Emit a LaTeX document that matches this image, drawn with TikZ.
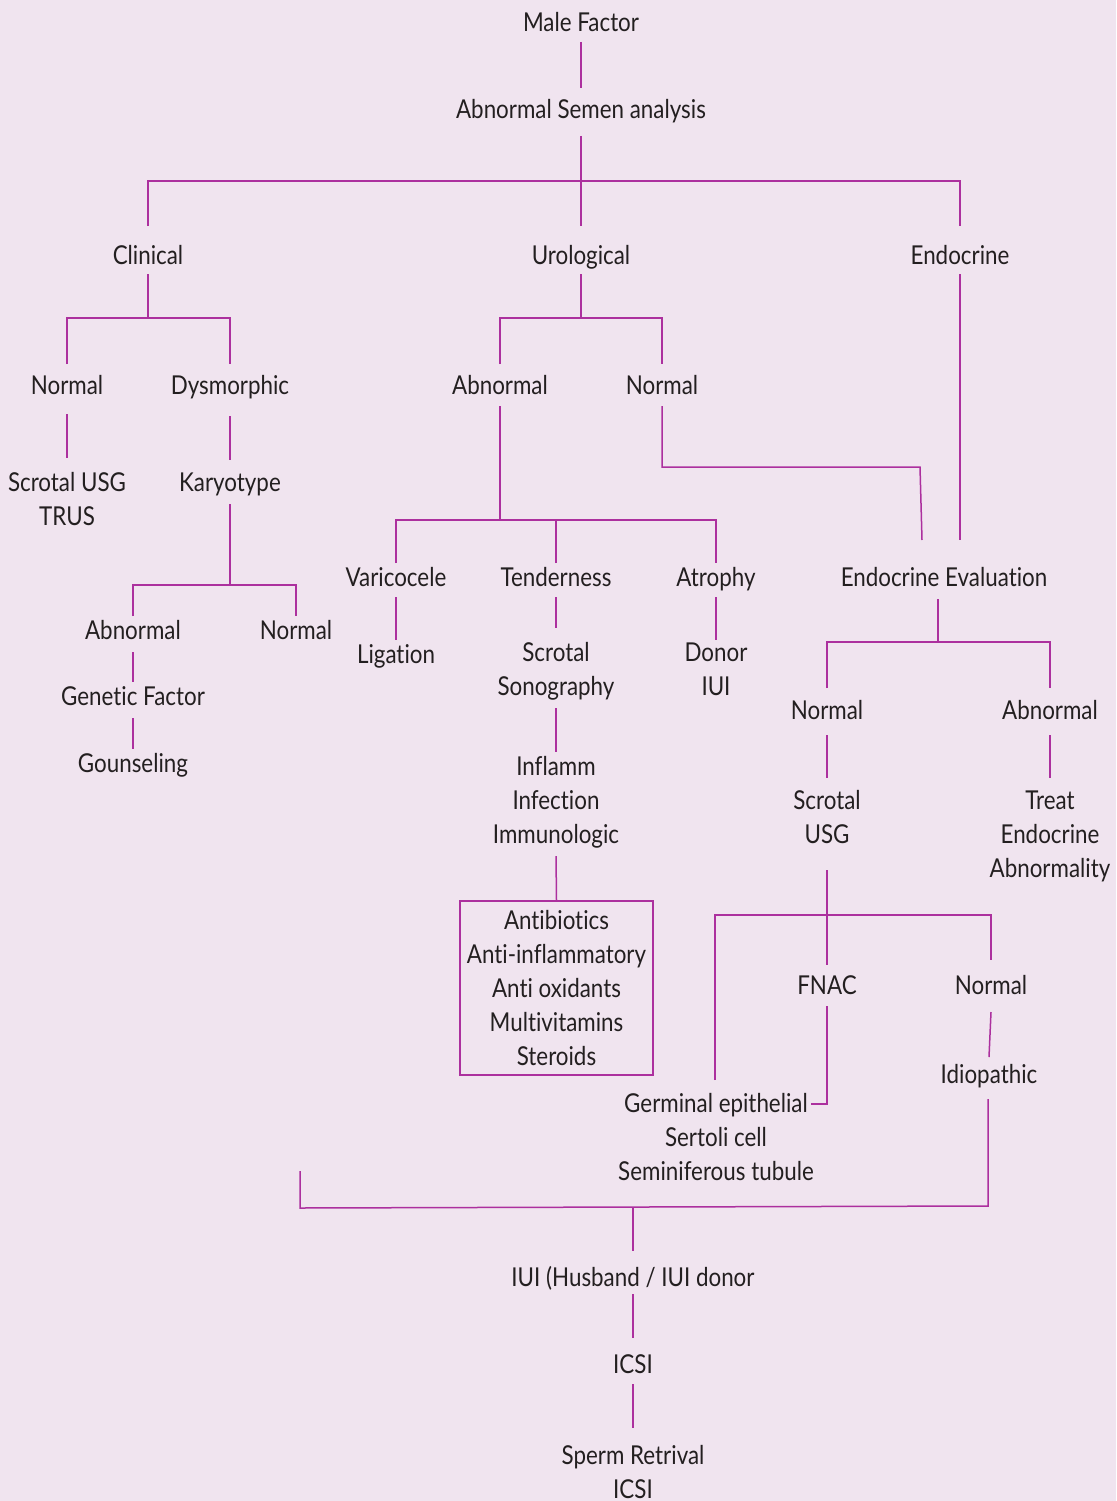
\documentclass[tikz,border=0pt]{standalone}
\usepackage{fontspec}
\setmainfont{Lato}[FakeStretch=0.86, Ligatures=NoCommon]
\definecolor{bgc}{RGB}{240,228,239}
\definecolor{linec}{RGB}{172,48,158}
\definecolor{txtc}{RGB}{35,31,32}
\begin{document}
\begin{tikzpicture}[x=1pt,y=-1pt,
  lbl/.style={inner sep=0pt, anchor=base, align=center, text=txtc,
    font=\fontsize{26}{34}\selectfont},
  link/.style={draw=linec, line width=1.5pt}]
\fill[bgc] (0,0) rectangle (1116,1501);
\useasboundingbox (0,0) rectangle (1116,1501);

% ---- labels (multi-line labels sit on the baseline of their last line) ----
\node[lbl] (male) at (581,32) {Male Factor};
\node[lbl] (asa) at (581,119) {Abnormal Semen analysis};
\node[lbl] (clin) at (148,264) {Clinical};
\node[lbl] (uro) at (581,264) {Urological};
\node[lbl] (endo) at (960,264) {Endocrine};

\node[lbl] (cnorm) at (67,394) {Normal};
\node[lbl] (dysm) at (230,394) {Dysmorphic};
\node[lbl] (cusg) at (67,525) {Scrotal USG\\TRUS};
\node[lbl] (kary) at (230,491) {Karyotype};
\node[lbl] (kabn) at (133,639) {Abnormal};
\node[lbl] (knorm) at (296,639) {Normal};
\node[lbl] (gen) at (133,705) {Genetic Factor};
\node[lbl] (gou) at (133,772) {Gounseling};

\node[lbl] (uabn) at (500,394) {Abnormal};
\node[lbl] (unorm) at (662,394) {Normal};
\node[lbl] (vari) at (396,586) {Varicocele};
\node[lbl] (tend) at (556,586) {Tenderness};
\node[lbl] (atro) at (716,586) {Atrophy};
\node[lbl] (lig) at (396,663) {Ligation};
\node[lbl] (sono) at (556,695) {Scrotal\\Sonography};
\node[lbl] (donor) at (716,695) {Donor\\IUI};
\node[lbl] (infl) at (556,843) {Inflamm\\Infection\\Immunologic};
\node[lbl, anchor=center, draw=linec, line width=1.5pt,
  minimum width=193pt, minimum height=174pt] (tx) at (556.5,988)
  {Antibiotics\\Anti-inflammatory\\Anti oxidants\\Multivitamins\\Steroids};

\node[lbl] (endoev) at (944,586) {Endocrine Evaluation};
\node[lbl] (enorm) at (827,719) {Normal};
\node[lbl] (eabn) at (1050,719) {Abnormal};
\node[lbl] (scr3) at (827,843) {Scrotal\\USG};
\node[lbl] (treat) at (1050,877) {Treat\\Endocrine\\Abnormality};
\node[lbl] (fnac) at (827,994) {FNAC};
\node[lbl] (fnorm) at (991,994) {Normal};
\node[lbl] (idio) at (989,1083) {Idiopathic};
\node[lbl] (germ) at (716,1180) {Germinal epithelial\\Sertoli cell\\Seminiferous tubule};

\node[lbl] (iui) at (633,1286) {IUI (Husband / IUI donor};
\node[lbl] (icsi) at (633,1373) {ICSI};
\node[lbl] (sperm) at (633,1498) {Sperm Retrival\\ICSI};

% ---- junctions ----
\coordinate (j1) at (581,181);
\coordinate (j2) at (148,318);
\coordinate (j3) at (230,585);
\coordinate (j4) at (581,318);
\coordinate (j5) at (920,467);
\coordinate (j6) at (500,520);
\coordinate (j7) at (938,642);
\coordinate (j8) at (827,915);
\coordinate (bR) at (988,1206);
\coordinate (bL) at (300,1208);
\coordinate (loose) at (300,1171);
\coordinate (j9) at (633,1207);

% ---- connectors ----
\draw[link] ([yshift=-10]male.base) -- ([yshift=31]asa.base);
\draw[link] ([yshift=-17]asa.base) -- ([yshift=38]uro.base);
\draw[link] ([yshift=38]clin.base) |- (j1) -| ([yshift=38]endo.base);

% clinical branch
\draw[link] ([yshift=-10]clin.base) -- (j2);
\draw[link] ([yshift=30]cnorm.base) |- (j2) -| ([yshift=30]dysm.base);
\draw[link] ([yshift=-20]cnorm.base) -- ([yshift=67]cusg.base);
\draw[link] ([yshift=-22]dysm.base) -- ([yshift=31]kary.base);
\draw[link] ([yshift=-13]kary.base) -- (j3);
\draw[link] ([yshift=23]kabn.base) |- (j3) -| ([yshift=23]knorm.base);
\draw[link] ([yshift=-13]kabn.base) -- ([yshift=23]gen.base);
\draw[link] ([yshift=-13]gen.base) -- ([yshift=23]gou.base);

% urological branch
\draw[link] ([yshift=-10]uro.base) -- (j4);
\draw[link] ([yshift=30]uabn.base) |- (j4) -| ([yshift=30]unorm.base);
\draw[link] ([yshift=-12]unorm.base) |- (j5) -- ([xshift=-22,yshift=46]endoev.base);
\draw[link] ([yshift=-12]uabn.base) -- (j6);
\draw[link] ([yshift=23]vari.base) |- (j6) -| ([yshift=23]atro.base);
\draw[link] ([yshift=23]tend.base) -- (tend.base |- j6);
\draw[link] ([yshift=-11]vari.base) -- ([yshift=23]lig.base);
\draw[link] ([yshift=-11]tend.base) -- ([yshift=67]sono.base);
\draw[link] ([yshift=-11]atro.base) -- ([yshift=55]donor.base);
\draw[link] ([yshift=-13]sono.base) -- ([yshift=91]infl.base);
\draw[link] ([yshift=-13]infl.base) -- (tx.north);

% endocrine branch
\draw[link] ([yshift=-10]endo.base) -- ([xshift=16,yshift=46]endoev.base);
\draw[link] ([xshift=-6,yshift=-13]endoev.base) -- (j7);
\draw[link] ([yshift=31]enorm.base) |- (j7) -| ([yshift=31]eabn.base);
\draw[link] ([yshift=-16]enorm.base) -- ([yshift=65]scr3.base);
\draw[link] ([yshift=-16]eabn.base) -- ([yshift=99]treat.base);
\draw[link] ([yshift=-27]scr3.base) -- ([yshift=29]fnac.base);
\draw[link] ([xshift=-1,yshift=100]germ.base) |- (j8) -| ([yshift=34]fnorm.base);
\draw[link] ([yshift=-12]fnac.base) |- ([xshift=95,yshift=76]germ.base);
\draw[link] ([yshift=-18]fnorm.base) -- ([yshift=26]idio.base);

% common pathway
\draw[link] ([xshift=-1,yshift=-16]idio.base) -- (bR) -- (bL) -- (loose);
\draw[link] (j9) -- ([yshift=35]iui.base);
\draw[link] ([yshift=-8]iui.base) -- ([yshift=35]icsi.base);
\draw[link] ([yshift=-11]icsi.base) -- ([yshift=70]sperm.base);
\end{tikzpicture}
\end{document}
